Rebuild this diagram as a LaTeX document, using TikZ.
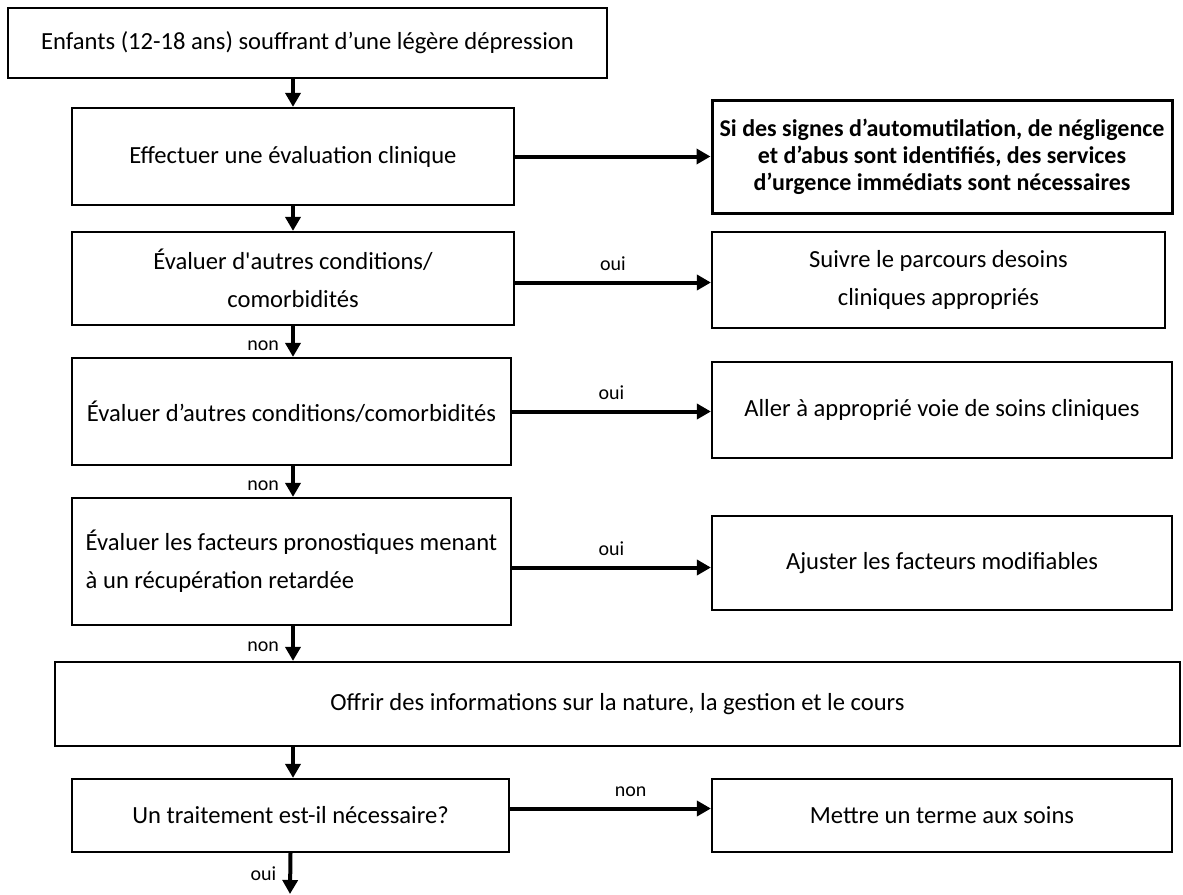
\documentclass[tikz,border=0pt]{standalone}
\usepackage{fontspec}
\setmainfont{Carlito}
\usetikzlibrary{arrows.meta,calc}

\tikzset{
  box/.style={draw=black, line width=1.1pt, align=center, inner sep=2pt, font=\fontsize{12.3}{13.5}\selectfont},
  widebox/.style={box, font=\fontsize{12.3}{19}\selectfont},
  flow/.style={line width=2pt, -{Triangle[length=7pt,width=7.5pt]}},
  lbl/.style={font=\fontsize{10}{12}\selectfont, inner sep=1pt}
}

\begin{document}
\begin{tikzpicture}[x=0.5pt,y=-0.5pt]
\useasboundingbox (0,0) rectangle (1183,894);
% left column
\node[box, minimum width=299.5pt, minimum height=35pt] (enfants) at (307.5,43) {Enfants (12-18 ans) souffrant d’une légère dépression};
\node[box, minimum width=221pt, minimum height=48.5pt] (eval) at (293,156.5) {Effectuer une évaluation clinique};
\node[widebox, minimum width=221pt, minimum height=46.5pt] (cond1) at (293,278.5) {Évaluer d\textquotesingle autres conditions/\\comorbidités};
\node[box, minimum width=219.5pt, minimum height=53.5pt] (cond2) at (291.5,411.5) {Évaluer d’autres conditions/comorbidités};
\node[widebox, align=left, minimum width=219.5pt, minimum height=63.5pt] (facteurs) at (291.5,561.5) {Évaluer les facteurs pronostiques menant\\à un récupération retardée};
\node[box, minimum width=562.5pt, minimum height=42pt] (info) at (617.5,704) {Offrir des informations sur la nature, la gestion et le cours};
\node[box, minimum width=218.5pt, minimum height=36.5pt] (traitement) at (290.5,815.5) {Un traitement est-il nécessaire?};
\coordinate (fin) at (290,894);
% right column
\node[box, line width=1.5pt, font=\bfseries\fontsize{12}{13.5}\selectfont, minimum width=230pt, minimum height=56.5pt] (urgence) at (942,156.5) {Si des signes d’automutilation, de négligence\\et d’abus sont identifiés, des services\\d’urgence immédiats sont nécessaires};
\node[widebox, minimum width=226.5pt, minimum height=48pt] (parcours) at (938.5,280) {Suivre le parcours desoins\\cliniques appropriés};
\node[box, minimum width=230pt, minimum height=48pt] (voie) at (942,410) {Aller à approprié voie de soins cliniques};
\node[box, minimum width=230pt, minimum height=47pt] (ajuster) at (942,563) {Ajuster les facteurs modifiables};
\node[box, minimum width=230pt, minimum height=36.5pt] (terme) at (942,815.5) {Mettre un terme aux soins};

% down arrows
\draw[flow] (eval.north |- enfants.south) -- (eval.north);
\draw[flow] (eval.south) -- (cond1.north);
\draw[flow] (cond1.south) -- node[lbl, left=5pt, pos=0.65] {non} (cond1.south |- cond2.north);
\draw[flow] (cond1.south |- cond2.south) -- node[lbl, left=5pt, pos=0.65] {non} (cond1.south |- facteurs.north);
\draw[flow] (cond1.south |- facteurs.south) -- node[lbl, left=5pt, pos=0.6] {non} (cond1.south |- info.north);
\draw[flow] (cond1.south |- info.south) -- (cond1.south |- traitement.north);
\draw[flow] (traitement.south) -- node[lbl, left=5pt, pos=0.5] {oui} (fin);
% side arrows
\draw[flow] (eval.east) -- (eval.east -| urgence.west);
\draw[flow] ($(cond1.east)+(0,4)$) -- node[lbl, above=4pt] {oui} ($(cond1.east -| parcours.west)+(0,4)$);
\draw[flow] (cond2.east) -- node[lbl, above=4pt] {oui} (cond2.east -| voie.west);
\draw[flow] ($(facteurs.east)+(0,6)$) -- node[lbl, above=4pt] {oui} ($(facteurs.east -| ajuster.west)+(0,6)$);
\draw[flow] ($(traitement.east)+(0,-7)$) -- node[lbl, above=4pt, pos=0.6] {non} ($(traitement.east -| terme.west)+(0,-7)$);
\end{tikzpicture}
\end{document}
